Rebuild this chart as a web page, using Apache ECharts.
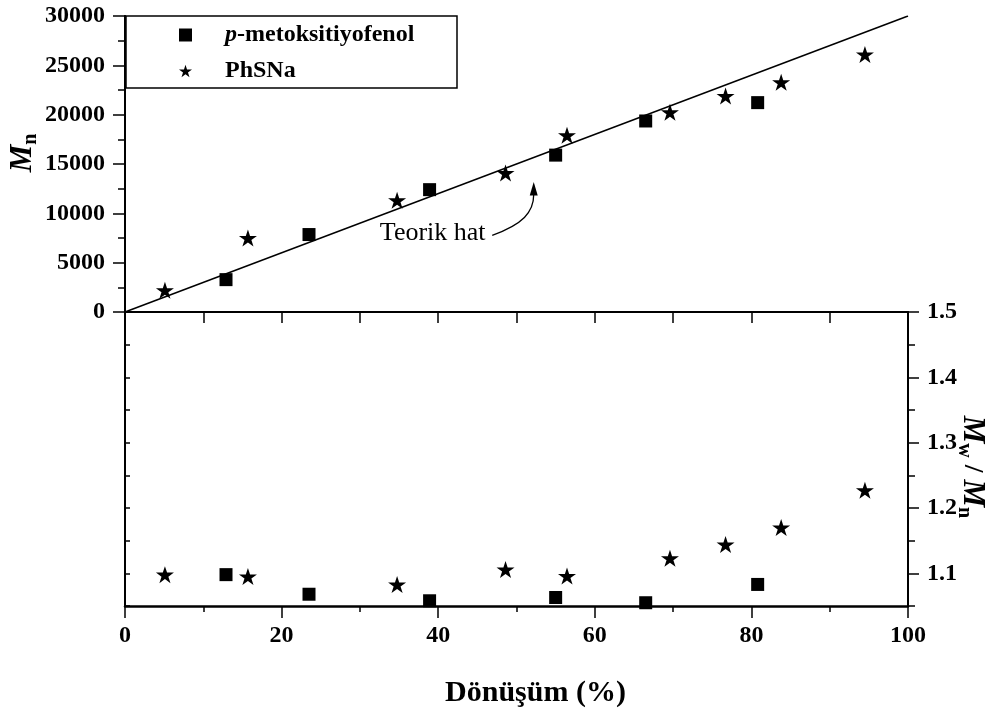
<!DOCTYPE html>
<html>
<head>
<meta charset="utf-8">
<script src="https://cdn.jsdelivr.net/npm/echarts@6/dist/echarts.min.js"></script>
<style>
  html, body { margin: 0; padding: 0; background: #fff; }
  #chart { width: 994px; height: 710px; }
</style>
</head>
<body>
<div id="chart"></div>
<script>
// Dönüşüm (%) değerleri ve ölçülen Mn, Mw/Mn
var convSq = [12.9, 23.5, 38.9, 55.0, 66.5, 80.8];
var mnSq = [3280, 7850, 12400, 15900, 19360, 21220];
var pdiSq = [1.098, 1.068, 1.058, 1.063, 1.055, 1.083];

var convSt = [5.1, 15.7, 34.75, 48.6, 56.45, 69.6, 76.7, 83.8, 94.5];
var mnSt = [2200, 7500, 11320, 14090, 17910, 20240, 21890, 23280, 26090];
var pdiSt = [1.098, 1.095, 1.083, 1.106, 1.096, 1.123, 1.144, 1.170, 1.227];

// teorik hat
var theoryConv = [0, 100];
var theoryMn = [0, 30000];

var pdiTicks = [1.1, 1.2, 1.3, 1.4, 1.5];

var FONT = '"Liberation Serif", "Times New Roman", serif';
var STAR = 'path://M50,0 L61.2,34.5 L97.6,34.5 L68.2,55.9 L79.4,90.5 L50,69.1 L20.6,90.5 L31.8,55.9 L2.4,34.5 L38.8,34.5 Z';

function pairs(xs, ys) {
  return xs.map(function (x, i) { return [x, ys[i]]; });
}

var nameRich = {
  m: { fontFamily: FONT, fontSize: 31, fontWeight: 'bold', fontStyle: 'italic', color: '#000' },
  s: { fontFamily: FONT, fontSize: 20, fontWeight: 'bold', color: '#000', padding: [16, 0, 0, 0] },
  t: { fontFamily: FONT, fontSize: 28, fontWeight: 'bold', color: '#000' }
};

var labelStyle = { fontFamily: FONT, fontSize: 24, fontWeight: 'bold', color: '#000' };
var black = { color: '#000', width: 2 };
var markStyle = { color: '#000', opacity: 1 };

var chart = echarts.init(document.getElementById('chart'));

chart.setOption({
  animation: false,
  backgroundColor: '#fff',
  grid: [
    { left: 125, width: 783, top: 16, height: 296, containLabel: false, outerBoundsMode: 'none' },
    { left: 125, width: 783, top: 312, height: 294, containLabel: false, outerBoundsMode: 'none' }
  ],
  legend: {
    orient: 'vertical',
    left: 179,
    top: 22,
    padding: 0,
    itemWidth: 13,
    itemHeight: 13,
    itemGap: 10,
    selectedMode: false,
    itemStyle: { opacity: 1 },
    data: [
      { name: 'p-metoksitiyofenol', icon: 'rect' },
      { name: 'PhSNa', icon: STAR }
    ],
    formatter: function (name) {
      return name === 'p-metoksitiyofenol' ? '{i|p}-metoksitiyofenol' : name;
    },
    textStyle: {
      fontFamily: FONT, fontSize: 24, fontWeight: 'bold', color: '#000',
      lineHeight: 26, padding: [0, 0, 0, 28],
      rich: { i: { fontFamily: FONT, fontSize: 24, fontWeight: 'bold', fontStyle: 'italic', color: '#000' } }
    }
  },
  xAxis: [
    {
      gridIndex: 0, type: 'value', min: 0, max: 100, interval: 10, position: 'bottom',
      axisLine: { lineStyle: black },
      axisTick: { length: 11, lineStyle: { width: 1.5 } },
      axisLabel: { show: false }, splitLine: { show: false }
    },
    {
      gridIndex: 0, type: 'value', min: 0, max: 100, interval: 10, position: 'top',
      axisLine: { lineStyle: { color: '#000', width: 1.5 } },
      axisTick: { inside: true, length: 3, lineStyle: { width: 1.5 } },
      axisLabel: { show: false }, splitLine: { show: false }
    },
    {
      gridIndex: 1, type: 'value', min: 0, max: 100, interval: 20, position: 'bottom',
      axisLine: { lineStyle: { color: '#000', width: 2.5 } },
      axisTick: { length: 12, lineStyle: { width: 1.5 } },
      minorTick: { show: true, splitNumber: 2, length: 6, lineStyle: { color: '#000', width: 1.5 } },
      axisLabel: Object.assign({ margin: 18, formatter: function (v) { return String(v); } }, labelStyle),
      splitLine: { show: false },
      name: 'Dönüşüm (%)', nameLocation: 'middle', nameGap: 72,
      nameTextStyle: { fontFamily: FONT, fontSize: 30, fontWeight: 'bold', color: '#000', padding: [0, 0, 0, 38] }
    }
  ],
  yAxis: [
    {
      gridIndex: 0, type: 'value', min: 0, max: 30000, interval: 5000, position: 'left',
      axisLine: { show: true, lineStyle: black },
      axisTick: { show: true, length: 12, lineStyle: { width: 1.5 } },
      minorTick: { show: true, splitNumber: 2, length: 7, lineStyle: { color: '#000', width: 1.5 } },
      axisLabel: Object.assign({ margin: 20, formatter: function (v) { return String(v); } }, labelStyle),
      splitLine: { show: false },
      name: '{m|M}{s|n}', nameLocation: 'middle', nameRotate: 90, nameGap: 84, nameMoveOverlap: false,
      nameTextStyle: { rich: nameRich, padding: [0, 0, 0, 22] }
    },
    {
      gridIndex: 0, type: 'value', min: 0, max: 30000, interval: 2500, position: 'right',
      axisLine: { show: true, lineStyle: black },
      axisTick: { show: true, inside: true, length: 5, lineStyle: { width: 1.5 } },
      axisLabel: { show: false }, splitLine: { show: false }
    },
    {
      gridIndex: 1, type: 'value', min: 1.05, max: 1.5, interval: 0.05, position: 'left',
      axisLine: { show: true, lineStyle: black },
      axisTick: { show: true, inside: true, length: 5, lineStyle: { width: 1.5 } },
      axisLabel: { show: false }, splitLine: { show: false }
    },
    {
      gridIndex: 1, type: 'value', min: 1.05, max: 1.5, interval: 0.05, position: 'right',
      axisLine: { show: true, lineStyle: black },
      axisTick: { show: true, length: 7, lineStyle: { width: 1.5 } },
      axisLabel: { show: false }, splitLine: { show: false }
    },
    {
      gridIndex: 1, type: 'value', min: 1.05, max: 1.5, position: 'right',
      axisLine: { show: false },
      axisTick: { show: true, length: 11, customValues: pdiTicks, lineStyle: { color: '#000', width: 1.5 } },
      axisLabel: Object.assign({
        margin: 19, customValues: pdiTicks,
        formatter: function (v) { return v.toFixed(1); }
      }, labelStyle),
      splitLine: { show: false },
      name: '{m|M}{s|w}{t| / }{m|M}{s|n}', nameLocation: 'middle', nameRotate: -90, nameGap: 46, nameMoveOverlap: false,
      nameTextStyle: { rich: nameRich, padding: [0, 0, 0, 16] }
    }
  ],
  series: [
    {
      name: 'Teorik hat', type: 'line', xAxisIndex: 0, yAxisIndex: 0,
      data: pairs(theoryConv, theoryMn), showSymbol: false, silent: true,
      lineStyle: { color: '#000', width: 1.5 }, z: 1
    },
    {
      name: 'p-metoksitiyofenol', type: 'scatter', xAxisIndex: 0, yAxisIndex: 0,
      data: pairs(convSq, mnSq), symbol: 'rect', symbolSize: 13,
      itemStyle: markStyle, z: 3
    },
    {
      name: 'PhSNa', type: 'scatter', xAxisIndex: 0, yAxisIndex: 0,
      data: pairs(convSt, mnSt), symbol: STAR, symbolSize: [18, 17],
      itemStyle: markStyle, z: 3
    },
    {
      name: 'p-metoksitiyofenol', type: 'scatter', xAxisIndex: 2, yAxisIndex: 2,
      data: pairs(convSq, pdiSq), symbol: 'rect', symbolSize: 13,
      itemStyle: markStyle, z: 3
    },
    {
      name: 'PhSNa', type: 'scatter', xAxisIndex: 2, yAxisIndex: 2,
      data: pairs(convSt, pdiSt), symbol: STAR, symbolSize: [18, 17],
      itemStyle: markStyle, z: 3
    }
  ]
});

// "Teorik hat" etiketi ve oku (veri koordinatlarında)
var noteText = [39.3, 7980];
var arrowStart = [46.9, 7770];
var arrowC1 = [50.8, 8900];
var arrowC2 = [52.2, 10100];
var arrowEnd = [52.2, 11900];
var arrowTip = [52.2, 13180];

function px(p) {
  return chart.convertToPixel({ xAxisIndex: 0, yAxisIndex: 0 }, p);
}

var s = px(arrowStart), c1 = px(arrowC1), c2 = px(arrowC2), e = px(arrowEnd), tip = px(arrowTip), t = px(noteText);

chart.setOption({
  graphic: [
    {
      type: 'rect', shape: { x: 126, y: 16, width: 331, height: 72 },
      style: { fill: 'none', stroke: '#000', lineWidth: 1.5 }, z: 10
    },
    {
      type: 'text', x: t[0], y: t[1],
      style: { text: 'Teorik hat', fontFamily: FONT, fontSize: 26, fill: '#000', align: 'center', verticalAlign: 'middle' }
    },
    {
      type: 'bezierCurve',
      shape: { x1: s[0], y1: s[1], cpx1: c1[0], cpy1: c1[1], cpx2: c2[0], cpy2: c2[1], x2: e[0], y2: e[1] },
      style: { stroke: '#000', lineWidth: 1.3, fill: 'none' }
    },
    {
      type: 'polygon',
      shape: { points: [[tip[0], tip[1]], [tip[0] - 4, e[1] + 1], [tip[0] + 4, e[1] + 1]] },
      style: { fill: '#000' }
    }
  ]
});
</script>
</body>
</html>
